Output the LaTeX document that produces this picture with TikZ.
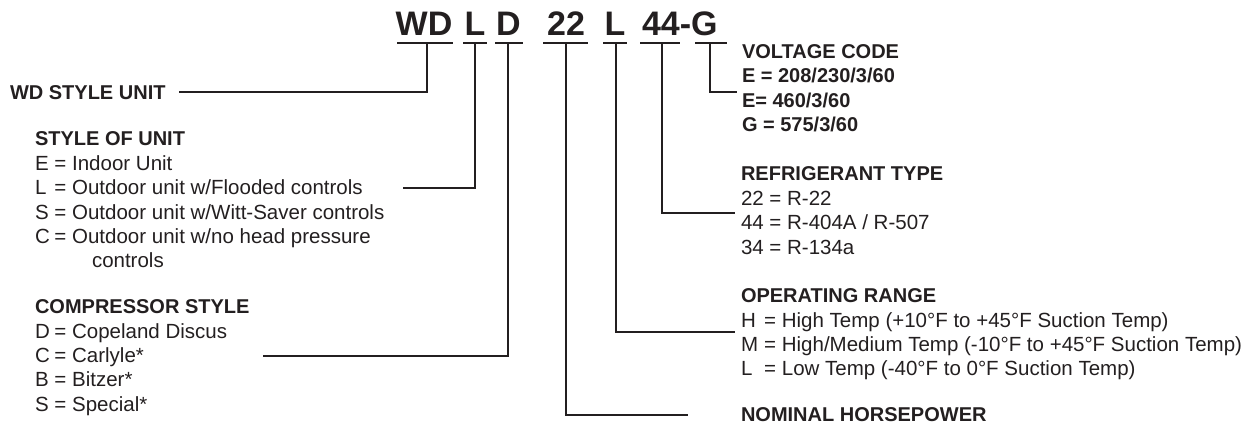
\documentclass[tikz,border=0pt]{standalone}
\usepackage{fontspec}
\setmainfont{Liberation Sans}
\definecolor{ink}{HTML}{231F20}
\newcommand\kc[2]{\makebox[#1][l]{#2}}
\begin{document}
\begin{tikzpicture}[x=1pt,y=-1pt,
  every node/.style={inner sep=0pt,outer sep=0pt,text=ink},
  code/.style={font=\fontsize{34}{40}\selectfont\bfseries},
  head/.style={font=\fontsize{20}{24}\selectfont\bfseries,anchor=base west},
  item/.style={font=\fontsize{20.5}{24}\selectfont,anchor=base west},
  uline/.style={line width=2pt,draw=ink},
  conn/.style={line width=2pt,draw=ink}]
\useasboundingbox (0,0) rectangle (1256,432);

% model number
\node[code,anchor=base] (cWD) at (424,35) {WD};
\node[code,anchor=base] (cL1) at (475,35) {L};
\node[code,anchor=base] (cD) at (508.5,35) {D};
\node[code,anchor=base] (c22) at (566,35) {22};
\node[code,anchor=base] (cL2) at (615,35) {L};
\node[code,anchor=base west] (c44G) at (642,35) {44-G};

% underlines
\coordinate (uWDa) at (397,43); \coordinate (uWDb) at (453,43);
\coordinate (uL1a) at (463,43); \coordinate (uL1b) at (487,43);
\coordinate (uDa) at (495,43);  \coordinate (uDb) at (523,43);
\coordinate (u22a) at (543,43); \coordinate (u22b) at (588,43);
\coordinate (uL2a) at (603,43); \coordinate (uL2b) at (627,43);
\coordinate (u44a) at (640,43); \coordinate (u44b) at (680,43);
\coordinate (uGa) at (695,43);  \coordinate (uGb) at (727,43);
\foreach \u in {WD,L1,D,22,L2,44,G}{\draw[uline] (u\u a) -- (u\u b);}

% drop points
\coordinate (mWD) at (427,43);
\coordinate (mL1) at (475,43);
\coordinate (mD) at (508,43);
\coordinate (m22) at (566,43);
\coordinate (mL2) at (616,43);
\coordinate (m44) at (662,43);
\coordinate (mG) at (710,43);

% WD style unit
\node[head] (wd) at (10,99) {WD STYLE UNIT};

% style of unit
\node[head] (su0) at (35,145) {STYLE OF UNIT};
\node[item] (su1) at (35,170) {\kc{13.8pt}{E}\ = Indoor Unit};
\node[item] (su2) at (35,194.5) {\kc{13.8pt}{L}\ = Outdoor unit w/Flooded controls};
\node[item] (su3) at (35,219) {\kc{13.8pt}{S}\ = Outdoor unit w/Witt-Saver controls};
\node[item] (su4) at (35,243.5) {\kc{13.8pt}{C}\ = Outdoor unit w/no head pressure};
\node[item] (su5) at (92,267) {controls};
\coordinate (eL1) at (403,188);

% compressor style
\node[head] (cs0) at (35,313) {COMPRESSOR STYLE};
\node[item] (cs1) at (35,338) {\kc{13.8pt}{D}\ = Copeland Discus};
\node[item] (cs2) at (35,362) {\kc{13.8pt}{C}\ = Carlyle*};
\node[item] (cs3) at (35,386.5) {\kc{13.8pt}{B}\ = Bitzer*};
\node[item] (cs4) at (35,411) {\kc{13.8pt}{S}\ = Special*};
\coordinate (eD) at (263,356);

% voltage code
\node[head] (vc0) at (742,58) {VOLTAGE CODE};
\node[head] (vc1) at (742,82.5) {E = 208/230/3/60};
\node[head] (vc2) at (742,107) {E= 460/3/60};
\node[head] (vc3) at (742,131) {G = 575/3/60};
\coordinate (eG) at (737,92);

% refrigerant type
\node[head] (rt0) at (741,180) {REFRIGERANT TYPE};
\node[item] (rt1) at (741,205) {22 = R-22};
\node[item] (rt2) at (741,229.5) {44 = R-404A / R-507};
\node[item] (rt3) at (741,254) {34 = R-134a};
\coordinate (e44) at (735,213);

% operating range
\node[head] (or0) at (741,302) {OPERATING RANGE};
\node[item] (or1) at (741,327) {\kc{17.5pt}{H}\ = High Temp (+10°F to +45°F Suction Temp)};
\node[item] (or2) at (741,351) {\kc{17.5pt}{M}\ = High/Medium Temp (-10°F to +45°F Suction Temp)};
\node[item] (or3) at (741,375) {\kc{17.5pt}{L}\ = Low Temp (-40°F to 0°F Suction Temp)};
\coordinate (eL2) at (735,332);

% nominal horsepower
\node[head] (nh) at (741,421) {NOMINAL HORSEPOWER};
\coordinate (e22) at (688,415);

% connectors
\draw[conn] (mWD) |- ([xshift=13pt]wd.east);
\draw[conn] (mL1) |- (eL1);
\draw[conn] (mD) |- (eD);
\draw[conn] (m22) |- (e22);
\draw[conn] (mL2) |- (eL2);
\draw[conn] (m44) |- (e44);
\draw[conn] (mG) |- (eG);
\end{tikzpicture}
\end{document}
